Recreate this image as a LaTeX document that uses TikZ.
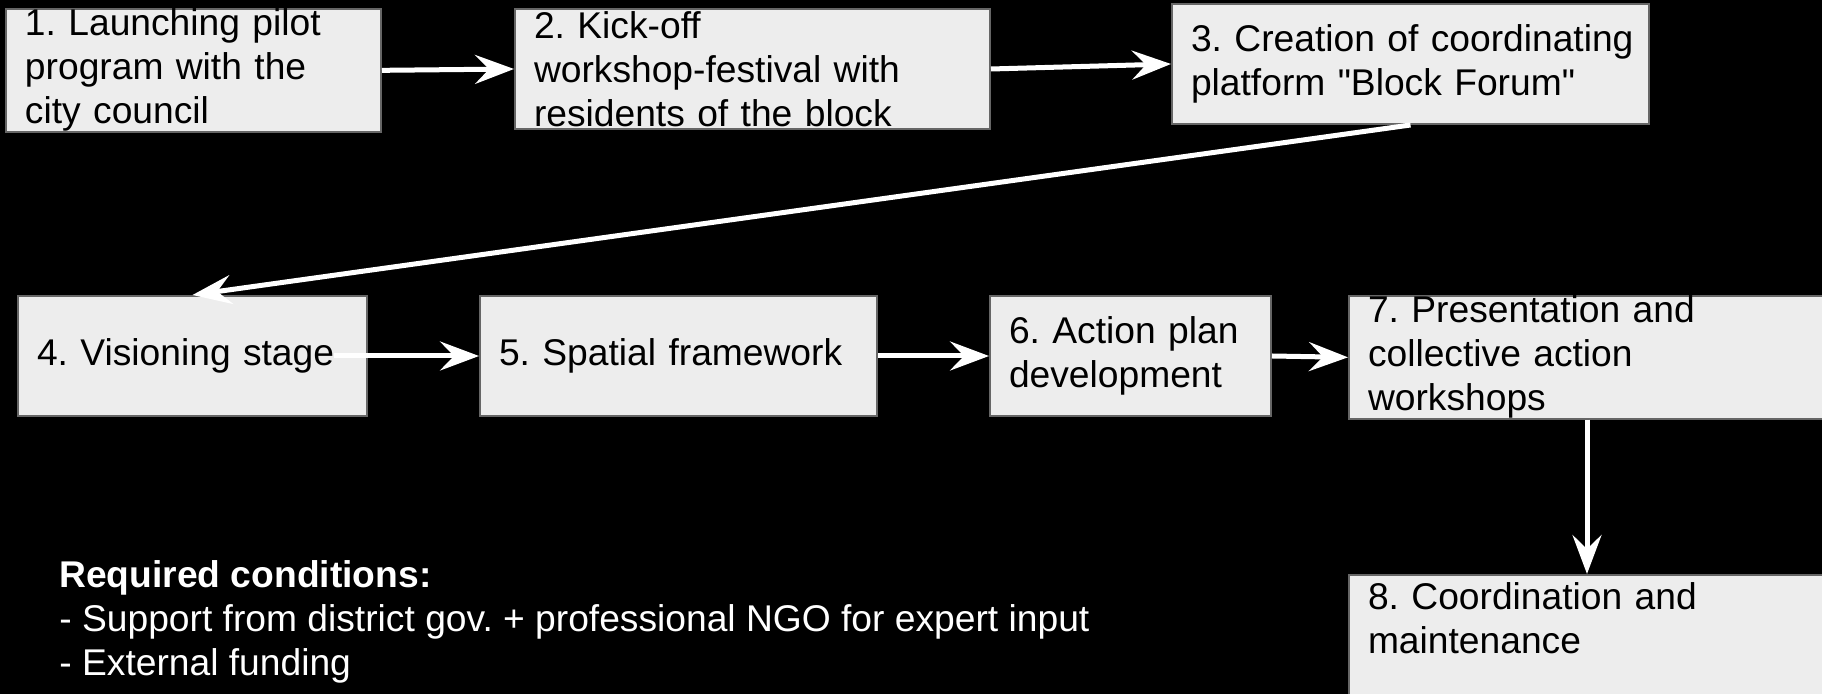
\documentclass[tikz,border=0pt]{standalone}
\usepackage{fontspec}
\setmainfont{Liberation Sans}
\usetikzlibrary{arrows.meta, calc}
\frenchspacing

\begin{document}
\begin{tikzpicture}[x=0.5pt, y=-0.5pt] % 1 单位 = 参考图 1 像素
        % 样式定义
        \tikzset{
            stage/.style={draw=black!60, line width=1pt, fill=black!7, text=black,
                anchor=north west, align=left, inner xsep=9.5pt, inner ysep=0pt,
                minimum height=60pt, font=\fontsize{18.6pt}{22pt}\selectfont},
            note/.style={text=white, anchor=west, align=left, inner sep=0pt,
                font=\fontsize{18.6pt}{22pt}\selectfont},
            flow/.style={draw=white, line width=2.5pt,
                -{Stealth[length=19.5pt, width=14.5pt, inset=7pt]}}
        }
        % 黑色背景
        \path[use as bounding box, fill=black] (0,0) rectangle (1822,694);
        % 第一行
        \node[stage, text width=168.5pt] (b1) at (5,8)
            {1. Launching pilot\\program with the\\city council};
        \node[stage, text width=218.5pt] (b2) at (514,8)
            {2. Kick-off\\workshop-festival with\\residents of the block};
        \node[stage, text width=219.5pt] (b3) at (1171,3)
            {\mbox{3. Creation of coordinating}\\platform \textquotedbl Block Forum\textquotedbl};
        % 第二行
        \node[stage, text width=155.5pt] (b4) at (17,295) {4. Visioning stage};
        \node[stage, text width=179.5pt] (b5) at (479,295) {5. Spatial framework};
        \node[stage, text width=121.5pt] (b6) at (989,295) {6. Action plan\\development};
        \node[stage, text width=219pt] (b7) at (1348,295)
            {7. Presentation and\\collective action\\workshops};
        % 第三行
        \node[stage, text width=219pt, minimum height=65pt] (b8) at (1348,574)
            {8. Coordination and\\maintenance\\~};
        \node[note] (req) at (59,622)
            {\textbf{Required conditions:}\\- Support from district gov. + professional NGO for expert input\\- External funding};
        % 连线
        \coordinate (s4) at ($(b4.east)+(-34,0)$);
        \foreach \s/\t in {b1.east/b2.west, b2.east/b3.west, b3.south/b4.north,
                s4/b5.west, b5.east/b6.west, b6.east/b7.west, b7.south/b8.north} {
            \draw[flow] (\s) -- (\t);
        }
    \end{tikzpicture}
\end{document}
